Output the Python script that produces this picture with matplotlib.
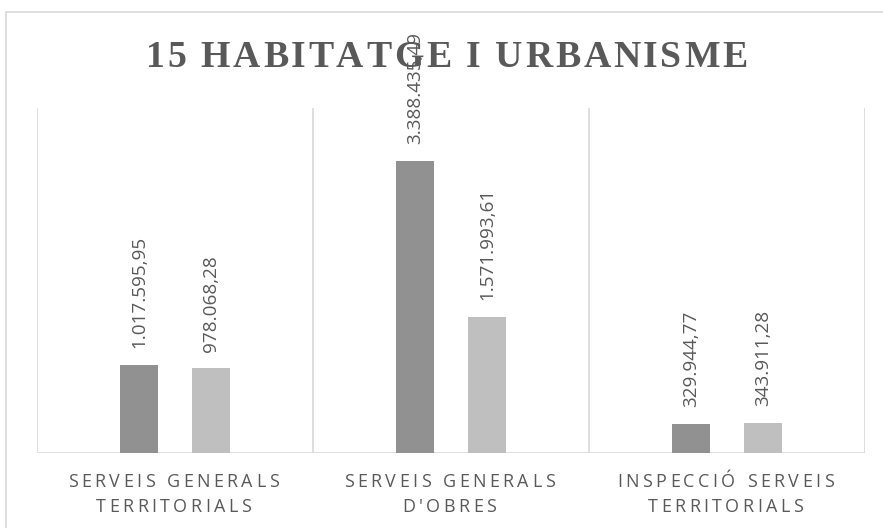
import matplotlib
matplotlib.use("Agg")
import matplotlib.pyplot as plt
import numpy as np
from matplotlib.font_manager import FontProperties, findfont, get_font
from matplotlib.patches import Rectangle

# data
categories = ["SERVEIS GENERALS\nTERRITORIALS",
              "SERVEIS GENERALS\nD'OBRES",
              "INSPECCIÓ SERVEIS\nTERRITORIALS"]
serie_1 = [1017595.95, 3388435.49, 329944.77]
serie_2 = [978068.28, 1571993.61, 343911.28]
title = "15 HABITATGE I URBANISME"

GRID = "#d9d9d9"
TXT = "#595959"
C1 = "#919191"
C2 = "#bfbfbf"


def fmt_eu(v):
    # 1.017.595,95 style
    s = f"{v:,.2f}"
    return s.replace(",", "X").replace(".", ",").replace("X", ".")


def advances(s, fp):
    font = get_font(findfont(fp))
    font.set_size(fp.get_size_in_points(), 72)
    return [font.load_char(ord(c)).linearHoriAdvance / 65536 for c in s]


def spaced(ax, s, xy, xycoords, dy, fp, spacing, color):
    # letter-spaced text, centered on xy, baseline offset dy (points)
    adv = advances(s, fp)
    total = sum(adv) + spacing * len(s)
    x = -total / 2
    for c, a in zip(s, adv):
        ax.annotate(c, xy=xy, xycoords=xycoords, xytext=(x, dy),
                    textcoords="offset points", ha="left", va="baseline",
                    fontproperties=fp, color=color, annotation_clip=False,
                    zorder=5)
        x += a + spacing


fig = plt.figure(figsize=(8.83, 5.28), dpi=100)
ax = fig.add_axes([37 / 883, 1 - 452.5 / 528, (865 - 37) / 883, (452.5 - 108) / 528])

# chart border (runs off the right and bottom edges)
fig.patches.append(Rectangle((6 / 883, -0.05), 1.2, 1 - 12 / 528 + 0.05,
                             transform=fig.transFigure, fill=False,
                             edgecolor=GRID, lw=1.2))

x = np.arange(len(categories))
w = 0.137
off = 0.13
b1 = ax.bar(x - off, serie_1, w, color=C1, zorder=3)
b2 = ax.bar(x + off, serie_2, w, color=C2, zorder=3)

ax.set_xlim(-0.5, len(categories) - 0.5)
ax.set_ylim(0, 4000000)

for s in ax.spines.values():
    s.set_visible(False)
ax.axhline(0, color=GRID, lw=1.2, zorder=2)
for xv in np.arange(-0.5, len(categories), 1.0):
    ax.axvline(xv, color=GRID, lw=1.2, zorder=1)
ax.set_xticks([])
ax.set_yticks([])

# value labels
val_font = FontProperties(family="Open Sans", size=13.6)
for bars, vals in ((b1, serie_1), (b2, serie_2)):
    for r, v in zip(bars, vals):
        ax.annotate(fmt_eu(v), xy=(r.get_x() + r.get_width() / 2, v),
                    xytext=(0, 12), textcoords="offset points",
                    rotation=90, ha="center", va="bottom",
                    fontproperties=val_font, color=TXT,
                    annotation_clip=False, zorder=4)

# category labels
cat_font = FontProperties(family="Open Sans", size=12.9)
for i, lab in enumerate(categories):
    for j, line in enumerate(lab.split("\n")):
        spaced(ax, line, (i, 0), ax.get_xaxis_transform(),
               -(487 - 452.5) * 0.72 - j * 25 * 0.72, cat_font, 2.5, TXT)

# title
title_font = FontProperties(family="Liberation Serif", weight="bold", size=27.2)
spaced(ax, title, (448, 528 - 67), "figure pixels", 0, title_font, 1.9, TXT)

fig.savefig("out.png", dpi=100)
